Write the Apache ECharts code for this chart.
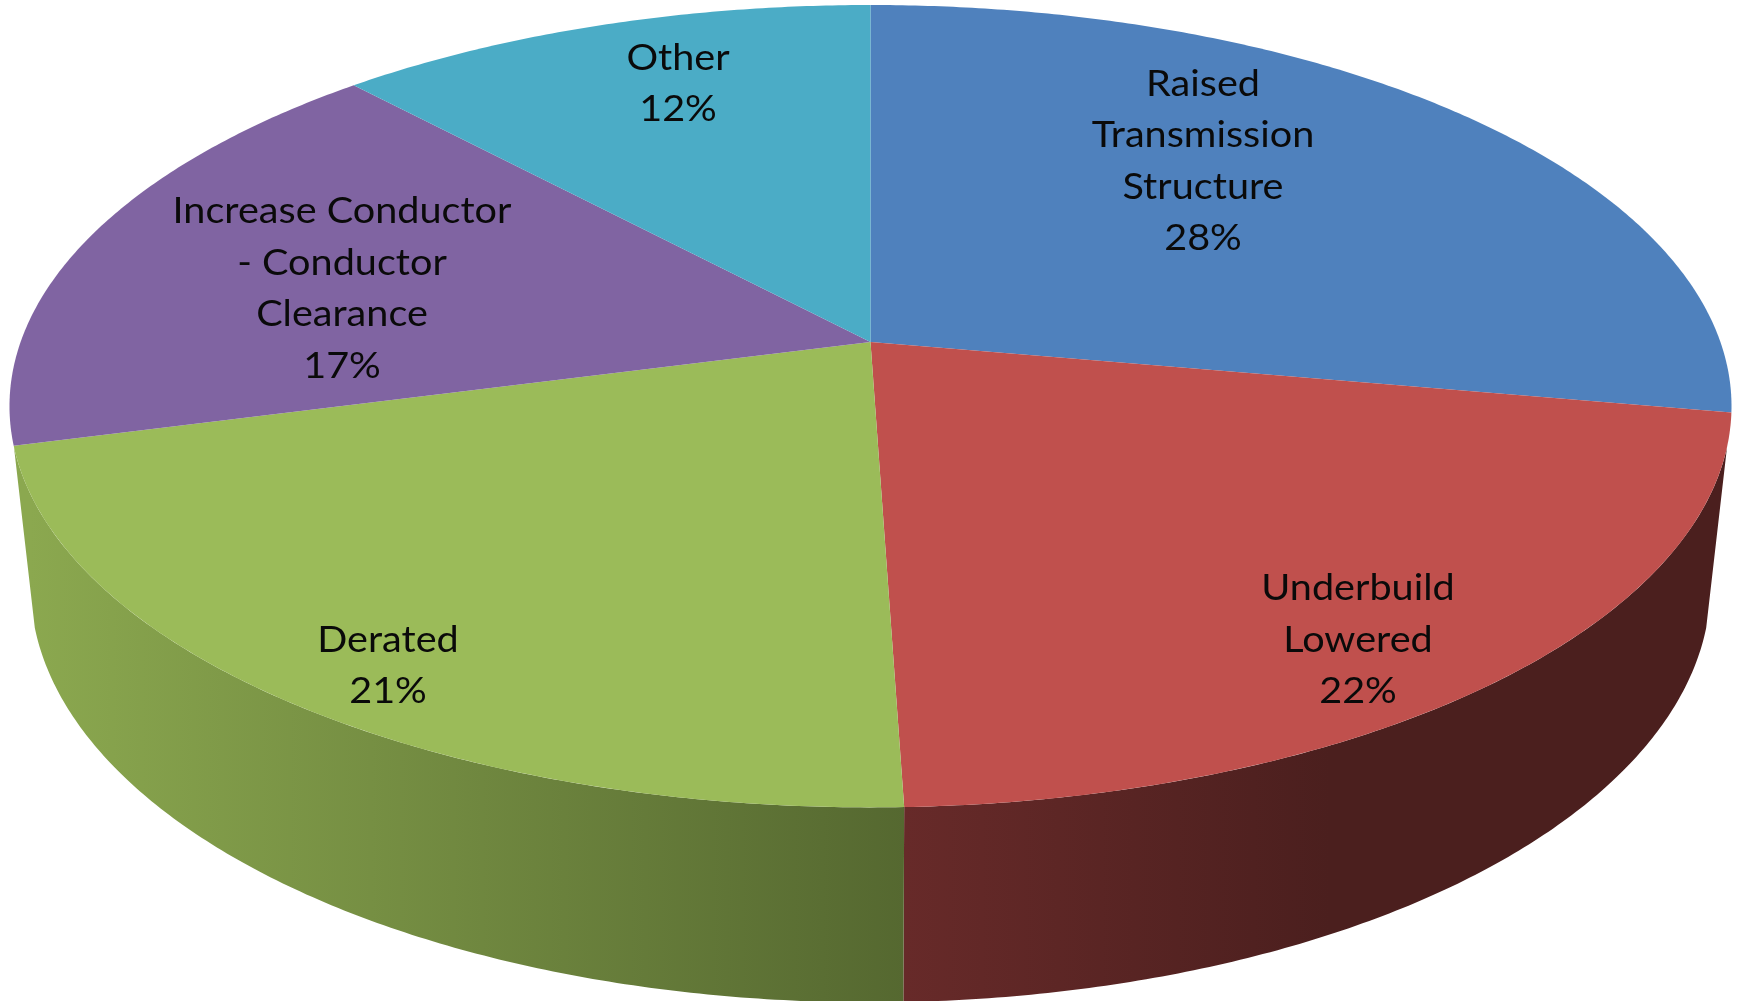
<!DOCTYPE html>
<html>
<head>
<meta charset="utf-8">
<style>html,body{margin:0;padding:0;background:#fff}#c{width:1739px;height:1001px}</style>
<script src="https://cdn.jsdelivr.net/npm/echarts@6/dist/echarts.min.js"></script>
</head>
<body>
<div id="c"></div>
<script>
// Data (percent of whole; labels are rounded)
const categories = ['Raised\nTransmission\nStructure', 'Underbuild\nLowered', 'Derated', 'Increase Conductor\n- Conductor\nClearance', 'Other'];
const shares = [27.8, 21.67, 21.43, 17.21, 11.89];

// Styling and layout, kept apart from the data
const topColors = ['#4f81bd', '#c0504d', '#9bbb59', '#8064a2', '#4bacc6'];
const sideStops = [null, ['#672a29', '#4b1f1e', 905, 1330], ['#8ba84f', '#556830', 30, 905], null, null];
const labelCenters = [[1203, 161.5], [1358, 640], [388, 666], [342, 289], [678, 84]];
const perspective = 0.16;
const topDisc = { cx: 870.5, cy: 342, far: 337, halfWidth: 861 };
const baseDisc = { cx: 870.5, cy: 519, far: 350, halfWidth: 840 };
const visibleFrom = 104.9, visibleTo = 255.1;

function project(deg, d) {
  const t = deg * Math.PI / 180, u = Math.sin(t), v = Math.cos(t), w = 1 + perspective * v;
  const A = d.halfWidth * Math.sqrt(1 - perspective * perspective), B = d.far * (1 + perspective);
  return [d.cx + A * u / w, d.cy - B * v / w];
}
function arc(a, b, d) {
  const pts = [], n = Math.max(2, Math.ceil(Math.abs(b - a) * 2));
  for (let i = 0; i <= n; i++) pts.push(project(a + (b - a) * i / n, d));
  return pts;
}
const total = shares.reduce((s, v) => s + v, 0);
function bounds(i) {
  let acc = 0;
  for (let k = 0; k < i; k++) acc += shares[k];
  return [acc / total * 360, (acc + shares[i]) / total * 360];
}
const rows = shares.map((v, i) => [i, v]);

const chart = echarts.init(document.getElementById('c'), null, { renderer: 'canvas' });
chart.setOption({
  backgroundColor: '#ffffff',
  animation: false,
  tooltip: { show: false },
  series: [
    {
      type: 'custom', coordinateSystem: 'none', z: 1, silent: true, clip: false, data: rows,
      renderItem(params, api) {
        const i = api.value(0), [s, e] = bounds(i);
        const a = Math.max(s, visibleFrom), b = Math.min(e, visibleTo);
        if (b <= a || !sideStops[i]) return { type: 'group', children: [] };
        const [c0, c1, x0, x1] = sideStops[i];
        const pts = arc(a, b, topDisc).concat(arc(b, a, baseDisc));
        return {
          type: 'polygon', shape: { points: pts },
          style: { fill: { type: 'linear', global: true, x: x0, y: 0, x2: x1, y2: 0,
            colorStops: [{ offset: 0, color: c0 }, { offset: 1, color: c1 }] } }
        };
      }
    },
    {
      type: 'custom', coordinateSystem: 'none', z: 2, silent: true, clip: false, data: rows,
      renderItem(params, api) {
        const i = api.value(0), [s, e] = bounds(i);
        const pts = [[topDisc.cx, topDisc.cy]].concat(arc(s, e, topDisc));
        return { type: 'polygon', shape: { points: pts }, style: { fill: topColors[i] } };
      }
    },
    {
      type: 'custom', coordinateSystem: 'none', z: 3, silent: true, clip: false, data: rows,
      renderItem(params, api) {
        const i = api.value(0), [x, y] = labelCenters[i];
        return {
          type: 'text', x, y, scaleX: 1.1,
          style: {
            text: categories[i] + '\n' + Math.round(api.value(1)) + '%',
            fontFamily: 'Lato', fontSize: 36, lineHeight: 51.5,
            fill: '#0a0a0a', align: 'center', verticalAlign: 'middle'
          }
        };
      }
    }
  ]
});
</script>
</body>
</html>
